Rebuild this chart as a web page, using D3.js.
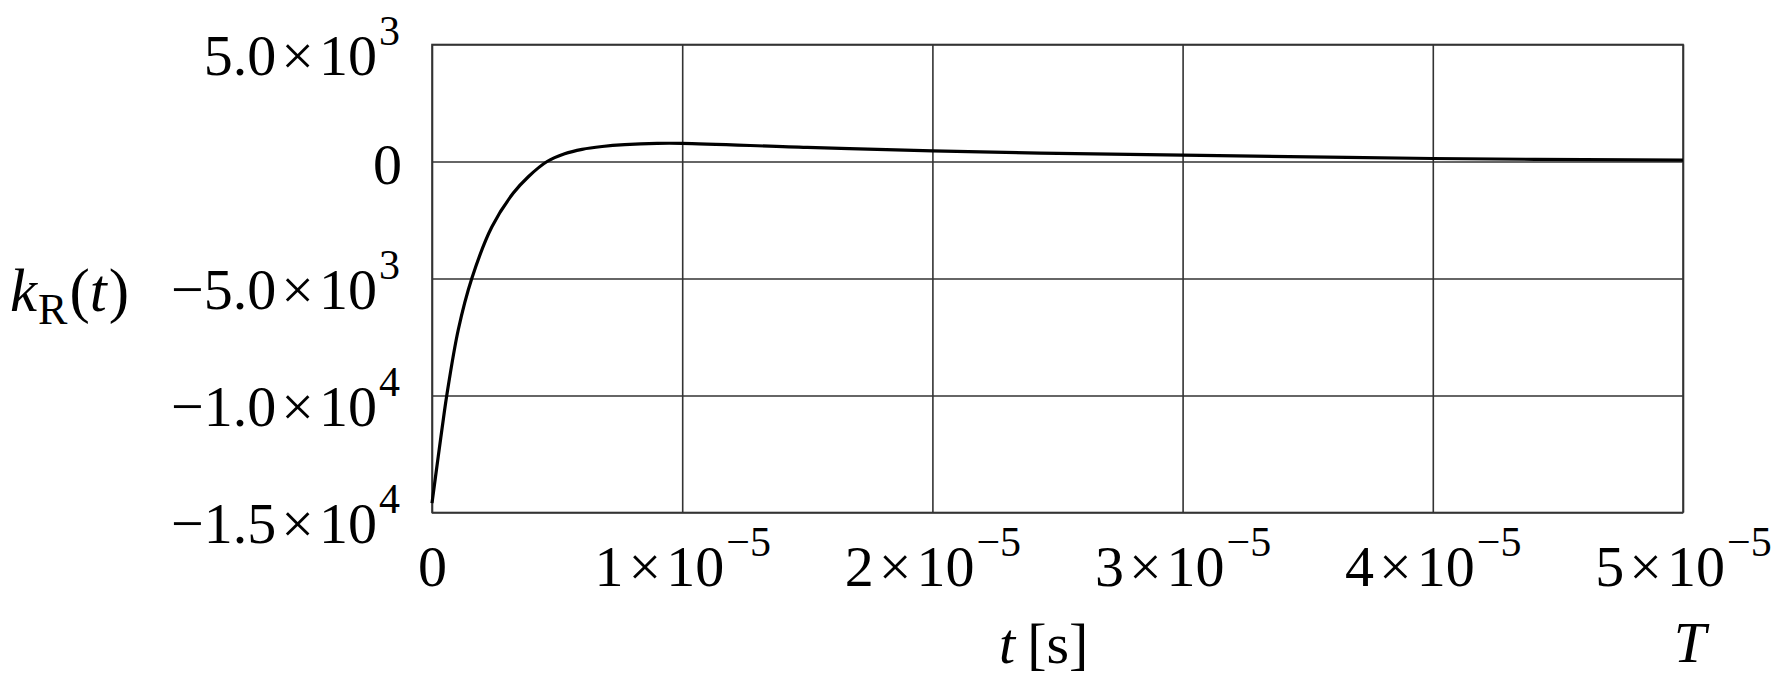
<!DOCTYPE html>
<html>
<head>
<meta charset="utf-8">
<script src="https://cdn.jsdelivr.net/npm/d3@7"></script>
<style>
  html, body { margin: 0; padding: 0; background: #fff; }
  svg { display: block; }
  text { font-family: "Liberation Serif", "Times New Roman", serif; fill: #000; }
</style>
</head>
<body>
<svg id="chart" width="1782" height="687"></svg>
<script>
// ---- data ----
const timeValues = [0, 0.025e-5, 0.041e-5, 0.059e-5, 0.105e-5, 0.159e-5, 0.239e-5, 0.325e-5, 0.385e-5,
  0.46e-5, 0.53e-5, 0.6e-5, 0.68e-5, 0.77e-5, 0.9e-5, 1.0e-5, 1.5e-5, 2.0e-5, 2.43e-5, 3.0e-5, 4.0e-5, 5.0e-5];
const kRValues = [-14600, -12600, -11350, -10000, -7190, -5000, -2800, -1350, -650,
  0, 330, 520, 640, 720, 775, 775, 600, 457, 360, 274, 128, 55];

const xTicks = [0, 1e-5, 2e-5, 3e-5, 4e-5, 5e-5];
const xTickMantissa = ["0", "1", "2", "3", "4", "5"];
const xTickExponent = ["", "−5", "−5", "−5", "−5", "−5"];

const yTicks = [5000, 0, -5000, -10000, -15000];
const yTickMantissa = ["5.0", "0", "−5.0", "−1.0", "−1.5"];
const yTickExponent = ["3", "", "3", "4", "4"];

const xDomain = [0, 5e-5];
const yDomain = [-15000, 5000];

// ---- layout ----
const pLeft = 432, pRight = 1683, pTop = 44.5, pBottom = 512.5;
const fontMain = 58, fontSup = 42;

const svg = d3.select("#chart");
const x = d3.scaleLinear().domain(xDomain).range([pLeft, pRight]);
const y = d3.scaleLinear().domain(yDomain).range([pBottom, pTop]);

// gridlines via axes
const gx = svg.append("g")
  .attr("transform", `translate(0,${pBottom})`)
  .call(d3.axisBottom(x).tickValues(xTicks).tickSizeInner(-(pBottom - pTop)).tickSizeOuter(0).tickFormat(""));
const gy = svg.append("g")
  .attr("transform", `translate(${pLeft},0)`)
  .call(d3.axisLeft(y).tickValues(yTicks).tickSizeInner(-(pRight - pLeft)).tickSizeOuter(0).tickFormat(""));
[gx, gy].forEach(g => {
  g.select(".domain").remove();
  g.selectAll(".tick line").attr("stroke", "#333").attr("stroke-width", 1.6);
});

// frame
svg.append("rect")
  .attr("x", pLeft).attr("y", pTop)
  .attr("width", pRight - pLeft).attr("height", pBottom - pTop)
  .attr("fill", "none").attr("stroke", "#333").attr("stroke-width", 1.6);

function sciLabel(textSel, mant, expo) {
  textSel.append("tspan").text(mant);
  if (expo) {
    textSel.append("tspan").attr("dx", 5).text("×");
    textSel.append("tspan").attr("dx", 5).text("10");
    textSel.append("tspan").attr("dx", 2).attr("dy", -30)
      .attr("font-size", fontSup).text(expo);
  }
}

// x tick labels
gx.selectAll(".tick").each(function(d, i) {
  const t = d3.select(this).append("text")
    .attr("x", 0).attr("y", 73.5)
    .attr("text-anchor", "middle")
    .attr("font-size", fontMain)
    .attr("fill", "#000");
  sciLabel(t, xTickMantissa[i], xTickExponent[i]);
});

// y tick labels
gy.selectAll(".tick").each(function(d, i) {
  const hasExp = !!yTickExponent[i];
  const t = d3.select(this).append("text")
    .attr("x", hasExp ? -32 : -30).attr("y", hasExp ? 29.5 : 22)
    .attr("text-anchor", "end")
    .attr("font-size", fontMain)
    .attr("fill", "#000");
  sciLabel(t, yTickMantissa[i], yTickExponent[i]);
});

// axis titles
const xt = svg.append("text").attr("x", 999).attr("y", 663).attr("font-size", fontMain);
xt.append("tspan").attr("font-style", "italic").text("t");
xt.append("tspan").attr("dx", 12).text("[s]");

svg.append("text").attr("x", 1690).attr("y", 662).attr("text-anchor", "middle")
  .attr("font-size", fontMain).attr("font-style", "italic").text("T");

const yt = svg.append("text").attr("x", 10).attr("y", 311).attr("font-size", 61);
yt.append("tspan").attr("font-style", "italic").text("k");
yt.append("tspan").attr("font-size", 44).attr("dy", 13).attr("dx", 1).text("R");
yt.append("tspan").attr("dy", -13).attr("dx", 2).text("(");
yt.append("tspan").attr("font-style", "italic").text("t");
yt.append("tspan").attr("dx", 2).text(")");

// curve
const pts = timeValues.map((t, i) => [t, kRValues[i]]);
svg.append("path")
  .datum(pts)
  .attr("fill", "none")
  .attr("stroke", "#000")
  .attr("stroke-width", 3.2)
  .attr("d", d3.line().x(d => x(d[0])).y(d => y(d[1])).curve(d3.curveCatmullRom.alpha(0.5)));
</script>
</body>
</html>
